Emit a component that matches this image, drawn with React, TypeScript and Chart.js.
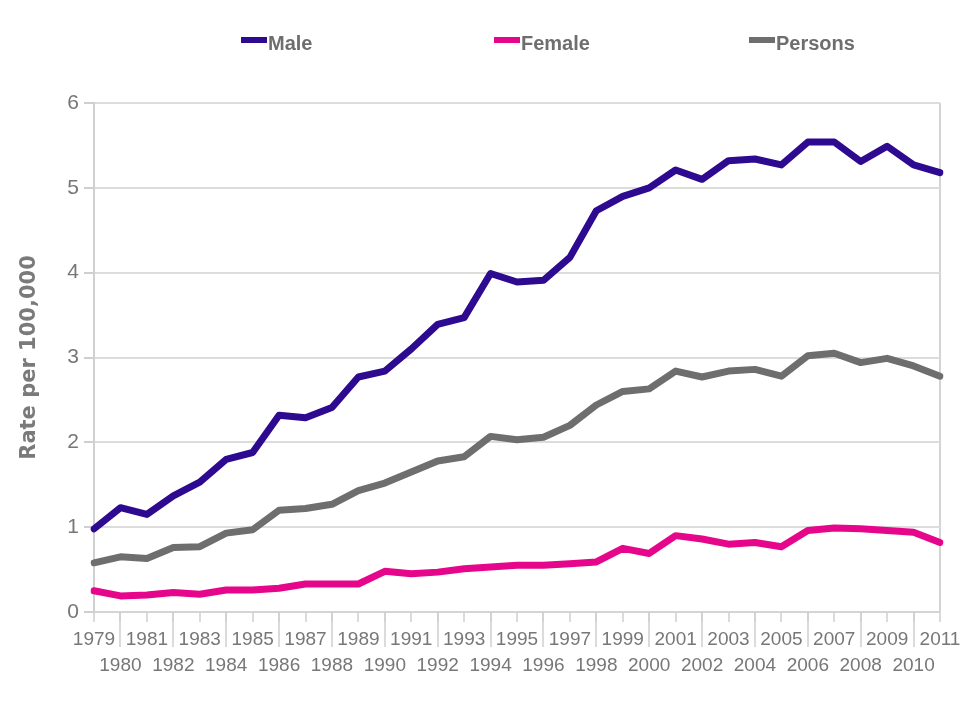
import React, { useEffect, useRef } from 'react';
import { Chart, registerables } from 'chart.js';

Chart.register(...registerables);

const years = [
  '1979', '1980', '1981', '1982', '1983', '1984', '1985', '1986', '1987', '1988', '1989',
  '1990', '1991', '1992', '1993', '1994', '1995', '1996', '1997', '1998', '1999', '2000',
  '2001', '2002', '2003', '2004', '2005', '2006', '2007', '2008', '2009', '2010', '2011',
];

const maleRates = [
  0.98, 1.23, 1.15, 1.37, 1.53, 1.80, 1.88, 2.32, 2.29, 2.41, 2.77,
  2.84, 3.10, 3.39, 3.47, 3.99, 3.89, 3.91, 4.18, 4.73, 4.90, 5.00,
  5.21, 5.10, 5.32, 5.34, 5.27, 5.54, 5.54, 5.31, 5.49, 5.27, 5.18,
];

const femaleRates = [
  0.25, 0.19, 0.20, 0.23, 0.21, 0.26, 0.26, 0.28, 0.33, 0.33, 0.33,
  0.48, 0.45, 0.47, 0.51, 0.53, 0.55, 0.55, 0.57, 0.59, 0.75, 0.69,
  0.90, 0.86, 0.80, 0.82, 0.77, 0.96, 0.99, 0.98, 0.96, 0.94, 0.82,
];

const personsRates = [
  0.58, 0.65, 0.63, 0.76, 0.77, 0.93, 0.97, 1.20, 1.22, 1.27, 1.43,
  1.52, 1.65, 1.78, 1.83, 2.07, 2.03, 2.06, 2.20, 2.44, 2.60, 2.63,
  2.84, 2.77, 2.84, 2.86, 2.78, 3.02, 3.05, 2.94, 2.99, 2.90, 2.78,
];

const seriesNames = ['Male', 'Female', 'Persons'];
const seriesColors = ['#2d0a8f', '#e6068b', '#6e6e6e'];
const yAxisTitle = 'Rate per 100,000';

const FONT = '"Liberation Sans", Arial, Helvetica, sans-serif';

const columnLegend = {
  id: 'columnLegend',
  afterDraw(chart: any, _args: any, opts: any) {
    const { ctx } = chart;
    ctx.save();
    ctx.font = `bold ${opts.fontSize}px ${FONT}`;
    ctx.textBaseline = 'middle';
    ctx.textAlign = 'left';
    chart.data.datasets.forEach((ds: any, i: number) => {
      const x = opts.starts[i];
      ctx.fillStyle = ds.borderColor;
      ctx.fillRect(x, opts.boxY, opts.boxWidth, opts.boxHeight);
      ctx.fillStyle = opts.color;
      ctx.fillText(ds.label, x + opts.boxWidth + opts.gap, opts.textY);
    });
    ctx.restore();
  },
};

const longTicks = {
  id: 'longTicks',
  afterDraw(chart: any, _args: any, opts: any) {
    const { ctx } = chart;
    const scale = chart.scales.x;
    const bottom = chart.chartArea.bottom;
    ctx.save();
    ctx.strokeStyle = opts.color;
    ctx.lineWidth = opts.width;
    scale.ticks.forEach((_t: any, i: number) => {
      if (i % 2 === 1) {
        const x = Math.round(scale.getPixelForTick(i));
        ctx.beginPath();
        ctx.moveTo(x, bottom);
        ctx.lineTo(x, bottom + opts.length);
        ctx.stroke();
      }
    });
    ctx.restore();
  },
};

export default function App() {
  const canvasRef = useRef<HTMLCanvasElement | null>(null);

  useEffect(() => {
    document.body.style.margin = '0';
    const canvas = canvasRef.current;
    if (!canvas) return;
    const seriesData = [maleRates, femaleRates, personsRates];
    const chart = new Chart(canvas, {
      type: 'line',
      data: {
        labels: years,
        datasets: seriesNames.map((name, i) => ({
          label: name,
          data: seriesData[i],
          borderColor: seriesColors[i],
          backgroundColor: seriesColors[i],
          borderWidth: 7,
          pointRadius: 0,
          pointHoverRadius: 0,
          tension: 0,
          borderJoinStyle: 'round' as const,
          borderCapStyle: 'round' as const,
          fill: false,
        })),
      },
      options: {
        responsive: false,
        animation: false,
        devicePixelRatio: 1,
        layout: { padding: { top: 103, right: 20, left: 0, bottom: 0 } },
        plugins: {
          legend: { display: false },
          tooltip: { enabled: false },
          columnLegend: {
            starts: [241, 494, 749],
            boxWidth: 26,
            boxHeight: 6,
            boxY: 37,
            textY: 44,
            gap: 1,
            fontSize: 20,
            color: '#6e6e6e',
          },
          longTicks: { color: '#cfcfcf', width: 1.5, length: 35 },
        } as any,
        scales: {
          x: {
            type: 'category',
            offset: false,
            afterFit: (scale: any) => {
              scale.paddingLeft = 0;
              scale.paddingRight = 0;
              scale.height = 101;
            },
            grid: {
              drawOnChartArea: true,
              color: (ctx: any) => (ctx.index === years.length - 1 ? '#d4d4d4' : 'rgba(0,0,0,0)'),
              lineWidth: 2,
              tickLength: 10,
              tickColor: '#cfcfcf',
              tickWidth: 1.5,
            },
            border: { display: true, color: '#d4d4d4', width: 2 },
            ticks: {
              autoSkip: false,
              maxRotation: 0,
              minRotation: 0,
              padding: 4,
              color: '#777777',
              font: { family: FONT, size: 19, lineHeight: 1.4 },
              callback: (_value: any, index: number) =>
                index % 2 === 0 ? years[index] : ['', years[index]],
            },
          },
          y: {
            min: 0,
            max: 6,
            afterFit: (scale: any) => {
              scale.paddingTop = 0;
              scale.paddingBottom = 0;
              scale.width = 94;
            },
            grid: {
              color: '#dcdcdc',
              lineWidth: 2,
              tickLength: 10,
              tickColor: '#cfcfcf',
            },
            border: { display: true, color: '#d0d0d0', width: 2 },
            ticks: {
              stepSize: 1,
              padding: 5,
              color: '#777777',
              font: { family: FONT, size: 21 },
            },
            title: {
              display: true,
              text: yAxisTitle,
              color: '#7a7a7a',
              padding: { top: 17, bottom: 0 },
              font: { family: '"DejaVu Sans", Verdana, sans-serif', size: 21, weight: 'bold' },
            },
          },
        },
      },
      plugins: [columnLegend, longTicks],
    });
    return () => chart.destroy();
  }, []);

  return (
    <canvas
      ref={canvasRef}
      width={960}
      height={713}
      style={{ display: 'block', width: '960px', height: '713px' }}
    />
  );
}
